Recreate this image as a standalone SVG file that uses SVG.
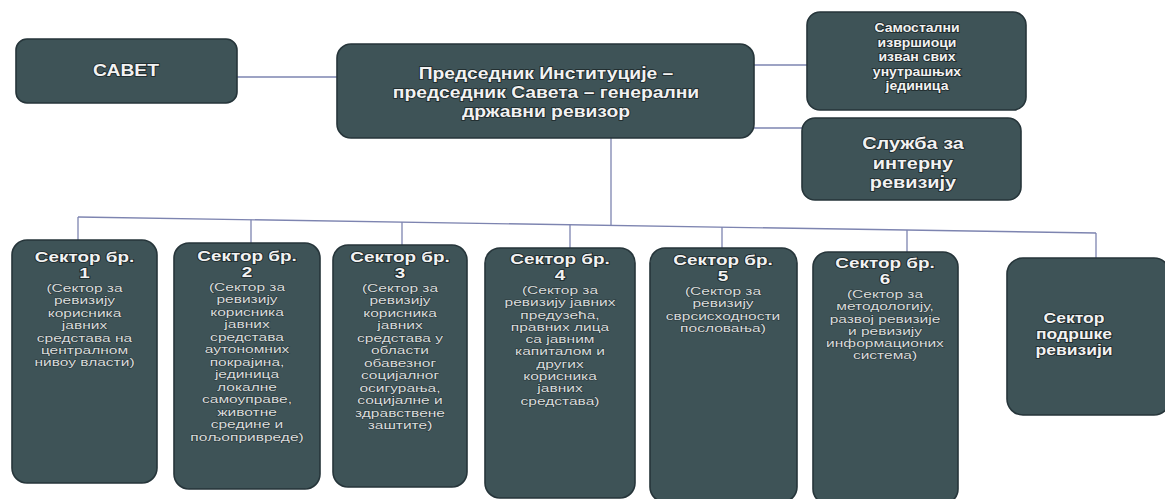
<svg xmlns="http://www.w3.org/2000/svg" width="1165" height="499" viewBox="0 0 1165 499">
<style>
.box{fill:#3e5357;stroke:#26353a;stroke-width:1.6}
.con{fill:none;stroke:#7d84b0;stroke-width:1.3}
.t{font-family:"Liberation Sans",Arial,sans-serif;font-weight:bold;fill:#f2f2f2;text-anchor:middle;stroke:#1c2729;stroke-width:1.6;paint-order:stroke}
.h{font-size:14px}
.d{font-family:"Liberation Sans",Arial,sans-serif;font-size:11.5px;fill:#d9dcdc;text-anchor:middle;stroke:#2a383b;stroke-width:1;paint-order:stroke}
</style>
<rect width="1165" height="499" fill="#ffffff"/>
<g id="connectors">
<line class="con" x1="237" y1="77" x2="337" y2="77"/>
<line class="con" x1="754" y1="65" x2="807" y2="65"/>
<line class="con" x1="754" y1="128" x2="802" y2="128"/>
<line class="con" x1="611" y1="137" x2="611" y2="225.4"/>
<line class="con" x1="78" y1="217" x2="1096" y2="233"/>
<line class="con" x1="78" y1="217" x2="78" y2="240"/>
<line class="con" x1="251" y1="219.7" x2="251" y2="243"/>
<line class="con" x1="402" y1="222.1" x2="402" y2="245"/>
<line class="con" x1="570" y1="224.7" x2="570" y2="248"/>
<line class="con" x1="722" y1="227.1" x2="722" y2="248"/>
<line class="con" x1="907" y1="230" x2="907" y2="252"/>
<line class="con" x1="1096" y1="233" x2="1096" y2="258"/>
</g>
<g id="savet">
<rect class="box" x="16" y="39" width="221" height="64" rx="11"/>
<g transform="translate(126 0) scale(1.17 1)"><text class="t" x="0" y="76" font-size="16.5">САВЕТ</text></g>
</g>
<g id="predsednik">
<rect class="box" x="337" y="44" width="417" height="94" rx="14"/>
<g transform="translate(546 0) scale(1.17 1)">
<text class="t" x="0" y="79" font-size="16.5">Председник Институције –</text>
<text class="t" x="0" y="98" font-size="16.5">председник Савета – генерални</text>
<text class="t" x="0" y="117" font-size="16.5">државни ревизор</text>
</g>
</g>
<g id="samostalni">
<rect class="box" x="807" y="12" width="219" height="98" rx="13"/>
<g transform="translate(917 0) scale(1.17 1)">
<text class="t" x="0" y="32" font-size="12" stroke-width="1.2">Самостални</text>
<text class="t" x="0" y="47" font-size="12" stroke-width="1.2">извршиоци</text>
<text class="t" x="0" y="61" font-size="12" stroke-width="1.2">изван свих</text>
<text class="t" x="0" y="76" font-size="12" stroke-width="1.2">унутрашњих</text>
<text class="t" x="0" y="90" font-size="12" stroke-width="1.2">јединица</text>
</g>
</g>
<g id="sluzba">
<rect class="box" x="802" y="118" width="219" height="82" rx="13"/>
<g transform="translate(913 0) scale(1.17 1)">
<text class="t" x="0" y="149" font-size="17">Служба за</text>
<text class="t" x="0" y="169" font-size="17">интерну</text>
<text class="t" x="0" y="188" font-size="17">ревизију</text>
</g>
</g>
<g id="sektor1">
<rect class="box" x="12" y="240" width="145" height="243" rx="15"/>
<g transform="translate(84.5 0) scale(1.35 1)">
<text class="t h" x="0" y="262.5">Сектор бр.</text>
<text class="t h" x="0" y="278">1</text>
</g>
<g transform="translate(84.5 0) scale(1.35 1)">
<text class="d" x="0" y="292">(Сектор за</text>
<text class="d" x="0" y="304.4">ревизију</text>
<text class="d" x="0" y="316.8">корисника</text>
<text class="d" x="0" y="329.2">јавних</text>
<text class="d" x="0" y="341.6">средстава на</text>
<text class="d" x="0" y="354">централном</text>
<text class="d" x="0" y="366.4">нивоу власти)</text>
</g>
</g>
<g id="sektor2">
<rect class="box" x="174" y="243" width="146" height="246" rx="15"/>
<g transform="translate(247 0) scale(1.35 1)">
<text class="t h" x="0" y="261.5">Сектор бр.</text>
<text class="t h" x="0" y="277">2</text>
</g>
<g transform="translate(247 0) scale(1.35 1)">
<text class="d" x="0" y="291">(Сектор за</text>
<text class="d" x="0" y="303.5">ревизију</text>
<text class="d" x="0" y="316">корисника</text>
<text class="d" x="0" y="328.5">јавних</text>
<text class="d" x="0" y="341">средстава</text>
<text class="d" x="0" y="353.5">аутономних</text>
<text class="d" x="0" y="366">покрајина,</text>
<text class="d" x="0" y="378.5">јединица</text>
<text class="d" x="0" y="391">локалне</text>
<text class="d" x="0" y="403.5">самоуправе,</text>
<text class="d" x="0" y="416">животне</text>
<text class="d" x="0" y="428.5">средине и</text>
<text class="d" x="0" y="441">пољопривреде)</text>
</g>
</g>
<g id="sektor3">
<rect class="box" x="333" y="245" width="134" height="242" rx="15"/>
<g transform="translate(400 0) scale(1.35 1)">
<text class="t h" x="0" y="262.5">Сектор бр.</text>
<text class="t h" x="0" y="278">3</text>
</g>
<g transform="translate(400 0) scale(1.35 1)">
<text class="d" x="0" y="292">(Сектор за</text>
<text class="d" x="0" y="304.5">ревизију</text>
<text class="d" x="0" y="317">корисника</text>
<text class="d" x="0" y="329.5">јавних</text>
<text class="d" x="0" y="342">средстава у</text>
<text class="d" x="0" y="354.5">области</text>
<text class="d" x="0" y="367">обавезног</text>
<text class="d" x="0" y="379.5">социјалног</text>
<text class="d" x="0" y="392">осигурања,</text>
<text class="d" x="0" y="404.5">социјалне и</text>
<text class="d" x="0" y="417">здравствене</text>
<text class="d" x="0" y="429.5">заштите)</text>
</g>
</g>
<g id="sektor4">
<rect class="box" x="485" y="248" width="150" height="250" rx="15"/>
<g transform="translate(560 0) scale(1.35 1)">
<text class="t h" x="0" y="264.5">Сектор бр.</text>
<text class="t h" x="0" y="280">4</text>
</g>
<g transform="translate(560 0) scale(1.35 1)">
<text class="d" x="0" y="294">(Сектор за</text>
<text class="d" x="0" y="306.3">ревизију јавних</text>
<text class="d" x="0" y="318.6">предузећа,</text>
<text class="d" x="0" y="330.9">правних лица</text>
<text class="d" x="0" y="343.2">са јавним</text>
<text class="d" x="0" y="355.5">капиталом и</text>
<text class="d" x="0" y="367.8">других</text>
<text class="d" x="0" y="380.1">корисника</text>
<text class="d" x="0" y="392.4">јавних</text>
<text class="d" x="0" y="404.7">средстава)</text>
</g>
</g>
<g id="sektor5">
<rect class="box" x="650" y="248" width="147" height="254" rx="15"/>
<g transform="translate(723 0) scale(1.35 1)">
<text class="t h" x="0" y="265.5">Сектор бр.</text>
<text class="t h" x="0" y="281">5</text>
</g>
<g transform="translate(723 0) scale(1.35 1)">
<text class="d" x="0" y="295">(Сектор за</text>
<text class="d" x="0" y="307.3">ревизију</text>
<text class="d" x="0" y="319.6">сврсисходности</text>
<text class="d" x="0" y="331.9">пословања)</text>
</g>
</g>
<g id="sektor6">
<rect class="box" x="813" y="252" width="145" height="252" rx="15"/>
<g transform="translate(885 0) scale(1.35 1)">
<text class="t h" x="0" y="268.5">Сектор бр.</text>
<text class="t h" x="0" y="284">6</text>
</g>
<g transform="translate(885 0) scale(1.35 1)">
<text class="d" x="0" y="298">(Сектор за</text>
<text class="d" x="0" y="310.3">методологију,</text>
<text class="d" x="0" y="322.6">развој ревизије</text>
<text class="d" x="0" y="334.9">и ревизију</text>
<text class="d" x="0" y="347.2">информационих</text>
<text class="d" x="0" y="359.5">система)</text>
</g>
</g>
<g id="sektor-podrske">
<rect class="box" x="1007" y="258" width="163" height="157" rx="16"/>
<g transform="translate(1074 0) scale(1.17 1)">
<text class="t" x="0" y="323" font-size="15">Сектор</text>
<text class="t" x="0" y="339" font-size="15">подршке</text>
<text class="t" x="0" y="355" font-size="15">ревизији</text>
</g>
</g>
</svg>
